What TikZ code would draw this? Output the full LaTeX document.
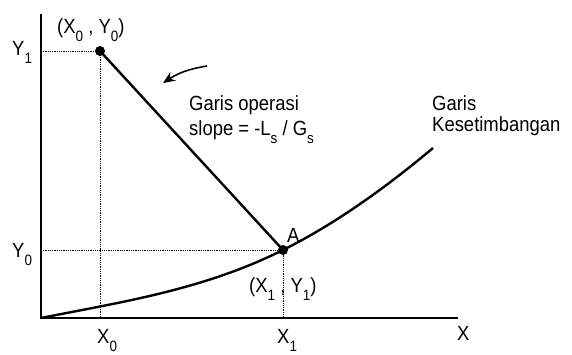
\documentclass[tikz,border=0pt]{standalone}
\usepackage{fontspec}
\setmainfont[FakeStretch=0.9]{Liberation Sans}
\usetikzlibrary{arrows.meta}
\newcommand\sbs[1]{\raisebox{-8pt}{\fontsize{15}{15}\selectfont #1}}
\tikzset{
  lbl/.style={inner sep=0pt, font=\fontsize{20.5}{24}\selectfont},
  axisline/.style={line width=2.6pt},
  mainline/.style={line width=2.4pt},
  guide/.style={line width=0.8pt, densely dotted},
  dot/.style={circle, fill=black, inner sep=0pt, minimum size=10pt}
}
\begin{document}
\begin{tikzpicture}[x=1pt,y=-1pt]
\useasboundingbox (0,0) rectangle (572,354);
% axes
\coordinate (O) at (41,318);
\coordinate (Ytop) at (41,14);
\coordinate (Xend) at (458,318);
\draw[axisline] (Ytop) -- (O) -- (Xend);
% points
\node[dot] (P0) at (100,51) {};
\node[dot] (A) at (283,250) {};
\coordinate (Y1a) at (41,51);
\coordinate (X0a) at (100,318);
\coordinate (Y0a) at (41,250);
\coordinate (X1a) at (283,318);
\draw[guide] (Y1a) -- (P0.center) -- (X0a);
\draw[guide] (Y0a) -- (A.center) -- (X1a);
% operating line
\draw[mainline] (P0.center) -- (A.center);
% equilibrium curve
\coordinate (E) at (433,148);
\draw[mainline] (O) .. controls (121,302) and (203,290) .. (A.center)
  .. controls (333,225) and (383,190) .. (E);
% arrow
\coordinate (arS) at (207,66);
\coordinate (arE) at (163,83);
\draw[line width=1.6pt, -{Stealth[length=12pt,width=10pt]}] (arS) to[bend right=12] (arE);
% labels
\node[lbl, anchor=base west] (y1) at (12,55) {Y\sbs{1}};
\node[lbl, anchor=base west] (y0) at (12,257) {Y\sbs{0}};
\node[lbl, anchor=base west] (x0) at (97,343) {X\sbs{0}};
\node[lbl, anchor=base west] (x1) at (277,343) {X\sbs{1}};
\node[lbl, anchor=base west] (xx) at (457,340) {X};
\node[lbl, anchor=base west] (p0l) at (57,33) {(X\sbs{0} , Y\sbs{0})};
\node[lbl, anchor=base west] (al) at (287,242) {A};
\node[lbl, anchor=base west] (p1l) at (249,292) {(X\sbs{1} , Y\sbs{1})};
\node[lbl, anchor=base west] (op1) at (189,110) {Garis operasi};
\node[lbl, anchor=base west] (op2) at (189,135) {slope = -L\sbs{s} / G\sbs{s}};
\node[lbl, anchor=base west] (eq1) at (432,110) {Garis};
\node[lbl, anchor=base west] (eq2) at (432,131) {Kesetimbangan};
\end{tikzpicture}
\end{document}
